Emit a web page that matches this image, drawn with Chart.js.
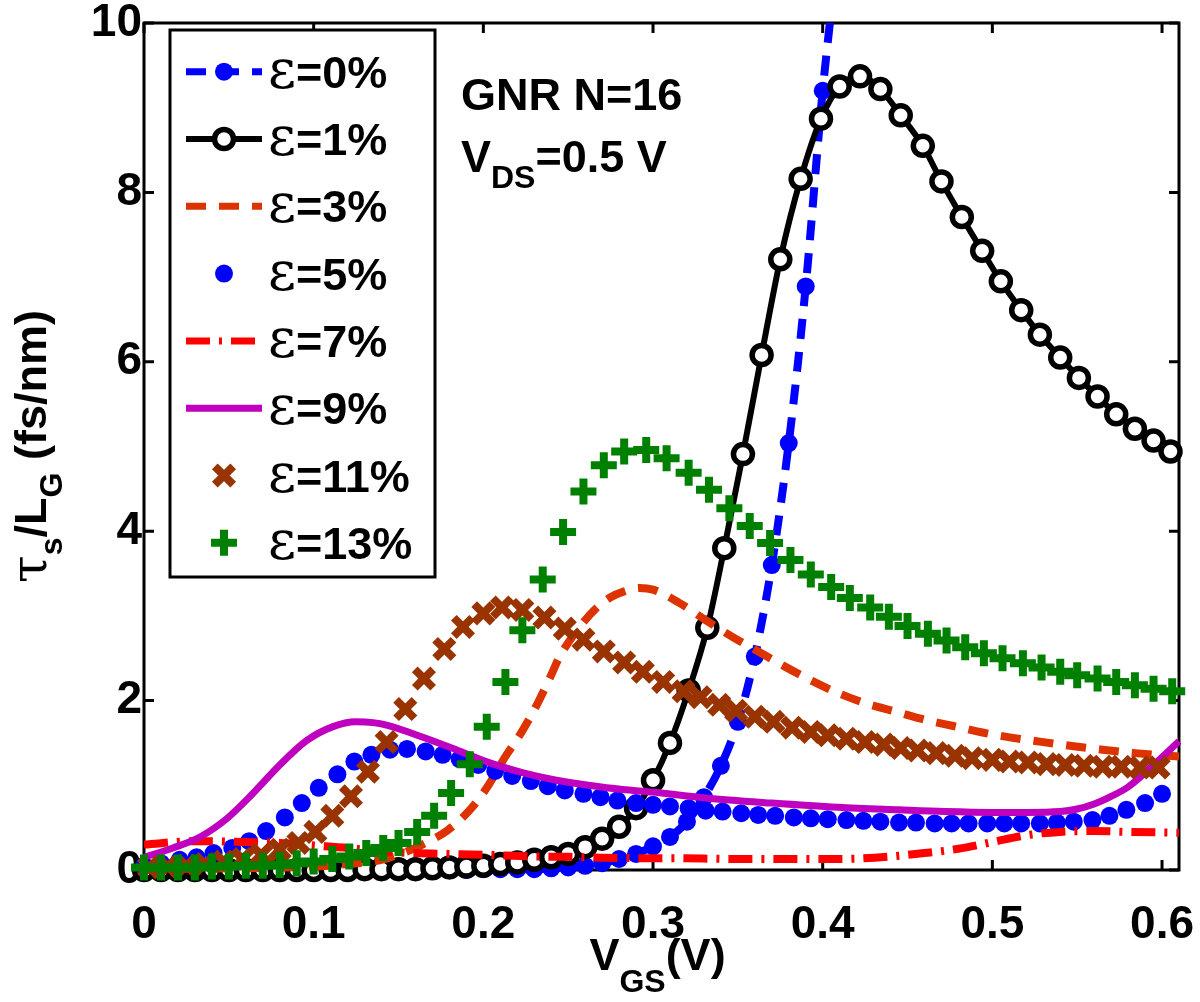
<!DOCTYPE html>
<html>
<head>
<meta charset="utf-8">
<script src="https://cdn.jsdelivr.net/npm/chart.js@4.4.0/dist/chart.umd.min.js"></script>
<style>
  html, body { margin: 0; padding: 0; background: #ffffff; }
  canvas { display: block; }
</style>
</head>
<body>
<canvas id="tauChart" width="1200" height="1002"></canvas>
<script>
// Axis ticks
const xTicks = [0, 0.1, 0.2, 0.3, 0.4, 0.5, 0.6];
const xTickLabels = ['0', '0.1', '0.2', '0.3', '0.4', '0.5', '0.6'];
const yTicks = [0, 2, 4, 6, 8, 10];
const yTickLabels = ['0', '2', '4', '6', '8', '10'];

// Series labels (legend order)
const seriesLabels = ['ε=0%', 'ε=1%', 'ε=3%', 'ε=5%', 'ε=7%', 'ε=9%', 'ε=11%', 'ε=13%'];

// ε = 0 %
const eps0X = [0.00, 0.01, 0.02, 0.03, 0.04, 0.05, 0.06, 0.07, 0.08, 0.09, 0.10, 0.11, 0.12, 0.13, 0.14,
  0.15, 0.16, 0.17, 0.18, 0.19, 0.20, 0.21, 0.22, 0.23, 0.24, 0.25, 0.26, 0.27, 0.28, 0.29,
  0.30, 0.31, 0.32, 0.33, 0.34, 0.35, 0.36, 0.37, 0.38, 0.39, 0.40, 0.41];
const eps0Y = [0.00, 0.00, 0.00, 0.00, 0.00, 0.00, 0.00, 0.00, 0.00, 0.00, 0.00, 0.00, 0.00, 0.00, 0.00,
  0.00, 0.00, 0.00, 0.00, 0.00, 0.01, 0.01, 0.01, 0.01, 0.02, 0.03, 0.05, 0.08, 0.13, 0.19,
  0.28, 0.39, 0.57, 0.86, 1.23, 1.75, 2.52, 3.60, 5.04, 6.89, 9.20, 11.0];

// ε = 1 %
const eps1X = [0.00, 0.01, 0.02, 0.03, 0.04, 0.05, 0.06, 0.07, 0.08, 0.09, 0.10, 0.11, 0.12, 0.13, 0.14,
  0.15, 0.16, 0.17, 0.18, 0.19, 0.20, 0.21, 0.22, 0.23, 0.24, 0.25, 0.26, 0.27, 0.28, 0.29,
  0.30, 0.31, 0.321, 0.332, 0.342, 0.353, 0.364, 0.375, 0.387, 0.399, 0.410, 0.422, 0.434,
  0.446, 0.459, 0.470, 0.482, 0.494, 0.505, 0.517, 0.528, 0.540, 0.551, 0.562, 0.573, 0.584,
  0.595, 0.605];
const eps1Y = [0.00, 0.00, 0.00, 0.00, 0.00, 0.00, 0.00, 0.00, 0.00, 0.00, 0.00, 0.00, 0.00, 0.01, 0.01,
  0.01, 0.01, 0.02, 0.03, 0.04, 0.05, 0.07, 0.09, 0.12, 0.15, 0.19, 0.27, 0.37, 0.51, 0.73,
  1.06, 1.50, 2.12, 2.86, 3.80, 4.91, 6.08, 7.21, 8.16, 8.87, 9.25, 9.37, 9.22,
  8.91, 8.55, 8.13, 7.71, 7.31, 6.95, 6.61, 6.32, 6.05, 5.81, 5.59, 5.38, 5.21,
  5.07, 4.94];

// ε = 3 %
const eps3X = [0.00, 0.05, 0.10, 0.12, 0.14, 0.15, 0.164, 0.179, 0.193, 0.203, 0.213, 0.222, 0.231,
  0.239, 0.245, 0.256, 0.266, 0.275, 0.283, 0.292, 0.300, 0.315, 0.331, 0.347, 0.362, 0.377,
  0.394, 0.409, 0.425, 0.443, 0.459, 0.477, 0.495, 0.512, 0.530, 0.548, 0.565, 0.584, 0.61];
const eps3Y = [0.01, 0.02, 0.04, 0.07, 0.12, 0.18, 0.30, 0.47, 0.73, 1.00, 1.34, 1.61, 1.93,
  2.26, 2.52, 2.85, 3.08, 3.22, 3.29, 3.33, 3.31, 3.16, 2.95, 2.75, 2.58, 2.41,
  2.23, 2.09, 1.97, 1.87, 1.78, 1.70, 1.62, 1.56, 1.51, 1.46, 1.42, 1.38, 1.34];

// ε = 5 %
const eps5X = [0.000, 0.010, 0.021, 0.031, 0.041, 0.052, 0.062, 0.072, 0.083, 0.093, 0.103, 0.114,
  0.124, 0.134, 0.145, 0.155, 0.166, 0.176, 0.186, 0.197, 0.207, 0.217, 0.228, 0.238, 0.248,
  0.259, 0.269, 0.279, 0.290, 0.300, 0.310, 0.321, 0.331, 0.341, 0.352, 0.362, 0.372, 0.383,
  0.393, 0.403, 0.414, 0.424, 0.434, 0.445, 0.455, 0.466, 0.476, 0.486, 0.497, 0.507, 0.517,
  0.528, 0.538, 0.548, 0.559, 0.569, 0.579, 0.590, 0.600];
const eps5Y = [0.05, 0.08, 0.12, 0.15, 0.20, 0.26, 0.34, 0.46, 0.62, 0.79, 0.97, 1.13,
  1.28, 1.36, 1.42, 1.43, 1.40, 1.36, 1.31, 1.24, 1.17, 1.11, 1.05, 0.99, 0.94,
  0.90, 0.86, 0.82, 0.79, 0.77, 0.75, 0.73, 0.70, 0.69, 0.67, 0.65, 0.64, 0.62,
  0.61, 0.60, 0.59, 0.58, 0.57, 0.56, 0.56, 0.55, 0.55, 0.55, 0.55, 0.55, 0.55,
  0.55, 0.56, 0.57, 0.59, 0.64, 0.71, 0.79, 0.90];

// ε = 7 %
const eps7X = [0.00, 0.03, 0.06, 0.08, 0.10, 0.12, 0.14, 0.16, 0.18, 0.20, 0.23, 0.25, 0.27, 0.29,
  0.31, 0.35, 0.40, 0.42, 0.44, 0.46, 0.48, 0.50, 0.52, 0.54, 0.56, 0.58, 0.61];
const eps7Y = [0.30, 0.34, 0.33, 0.32, 0.29, 0.26, 0.22, 0.20, 0.19, 0.18, 0.16, 0.155, 0.145, 0.14,
  0.14, 0.13, 0.13, 0.135, 0.16, 0.20, 0.25, 0.33, 0.41, 0.45, 0.46, 0.45, 0.44];

// ε = 9 %
const eps9X = [0.000, 0.017, 0.033, 0.049, 0.064, 0.080, 0.096, 0.111, 0.125, 0.135, 0.143, 0.164,
  0.184, 0.203, 0.223, 0.243, 0.262, 0.282, 0.300, 0.331, 0.370, 0.409, 0.445, 0.472, 0.500,
  0.520, 0.540, 0.550, 0.560, 0.570, 0.580, 0.595, 0.610];
const eps9Y = [0.15, 0.26, 0.39, 0.61, 0.90, 1.24, 1.53, 1.69, 1.75, 1.74, 1.71, 1.57,
  1.42, 1.27, 1.15, 1.06, 1.00, 0.95, 0.92, 0.85, 0.79, 0.74, 0.71, 0.69, 0.68,
  0.68, 0.69, 0.72, 0.78, 0.87, 0.98, 1.24, 1.52];

// ε = 11 %
const eps11X = [0.003, 0.014, 0.025, 0.036, 0.047, 0.058, 0.069, 0.080, 0.091, 0.101, 0.111, 0.122,
  0.132, 0.143, 0.154, 0.165, 0.177, 0.188, 0.200, 0.211, 0.223, 0.236, 0.248, 0.259, 0.271,
  0.283, 0.294, 0.306, 0.318, 0.328, 0.339, 0.349, 0.360, 0.371, 0.382, 0.393, 0.403, 0.414,
  0.425, 0.436, 0.446, 0.456, 0.467, 0.478, 0.488, 0.500, 0.510, 0.521, 0.532, 0.543, 0.554,
  0.565, 0.576, 0.587, 0.598];
const eps11Y = [0.03, 0.04, 0.05, 0.07, 0.10, 0.13, 0.18, 0.24, 0.32, 0.45, 0.64, 0.87,
  1.16, 1.51, 1.90, 2.26, 2.61, 2.87, 3.03, 3.10, 3.07, 2.98, 2.85, 2.72, 2.58,
  2.45, 2.34, 2.22, 2.11, 2.04, 1.95, 1.88, 1.81, 1.75, 1.68, 1.63, 1.59, 1.55,
  1.51, 1.48, 1.44, 1.41, 1.38, 1.35, 1.32, 1.30, 1.28, 1.27, 1.25, 1.24, 1.23,
  1.22, 1.22, 1.21, 1.21];

// ε = 13 %
const eps13X = [0.00, 0.01, 0.02, 0.03, 0.04, 0.05, 0.06, 0.07, 0.08, 0.09, 0.100, 0.111, 0.121,
  0.131, 0.141, 0.150, 0.161, 0.171, 0.181, 0.192, 0.202, 0.213, 0.223, 0.235, 0.247, 0.259,
  0.271, 0.283, 0.296, 0.308, 0.321, 0.333, 0.345, 0.357, 0.369, 0.381, 0.393, 0.405, 0.416,
  0.428, 0.439, 0.450, 0.462, 0.473, 0.484, 0.495, 0.506, 0.518, 0.529, 0.540, 0.550, 0.562,
  0.573, 0.584, 0.595, 0.606];
const eps13Y = [0.03, 0.03, 0.03, 0.03, 0.04, 0.04, 0.05, 0.05, 0.06, 0.08, 0.10, 0.13, 0.16,
  0.20, 0.26, 0.32, 0.45, 0.64, 0.91, 1.25, 1.69, 2.22, 2.83, 3.43, 3.99, 4.47,
  4.78, 4.94, 4.96, 4.86, 4.69, 4.49, 4.27, 4.06, 3.86, 3.66, 3.49, 3.34, 3.21,
  3.10, 2.99, 2.88, 2.79, 2.71, 2.63, 2.56, 2.50, 2.44, 2.39, 2.34, 2.30, 2.26,
  2.22, 2.18, 2.14, 2.11];

const FONT = '"Liberation Sans", Arial, Helvetica, sans-serif';
const GREEK = '"DejaVu Serif", "Liberation Serif", serif';

function pts(xs, ys) {
    return xs.map((x, i) => ({ x: x, y: ys[i] }));
}

const noClip = { left: false, top: false, right: false, bottom: false };

const datasets = [
    {
        label: seriesLabels[0], data: pts(eps0X, eps0Y), showLine: true,
        borderColor: '#0000ff', borderWidth: 8, borderDash: [20, 13],
        pointStyle: 'circle', pointRadius: 9, pointBackgroundColor: '#0000ff', pointBorderWidth: 0,
        clip: { left: false, top: 0, right: false, bottom: false }
    },
    {
        label: seriesLabels[1], data: pts(eps1X, eps1Y), showLine: true,
        borderColor: '#000000', borderWidth: 6,
        pointStyle: 'circle', pointRadius: 9.5, pointBackgroundColor: '#ffffff',
        pointBorderColor: '#000000', pointBorderWidth: 5.5, clip: noClip
    },
    {
        label: seriesLabels[2], data: pts(eps3X, eps3Y), showLine: true,
        borderColor: '#dd3300', borderWidth: 8, borderDash: [20, 13],
        pointRadius: 0, clip: noClip
    },
    {
        label: seriesLabels[3], data: pts(eps5X, eps5Y), showLine: false,
        pointStyle: 'circle', pointRadius: 9, pointBackgroundColor: '#0000ff',
        pointBorderWidth: 0, clip: noClip
    },
    {
        label: seriesLabels[4], data: pts(eps7X, eps7Y), showLine: true,
        borderColor: '#ff0000', borderWidth: 8, borderDash: [24, 9, 3, 9],
        pointRadius: 0, clip: noClip
    },
    {
        label: seriesLabels[5], data: pts(eps9X, eps9Y), showLine: true,
        borderColor: '#bf00bf', borderWidth: 7,
        pointRadius: 0, clip: noClip
    },
    {
        label: seriesLabels[6], data: pts(eps11X, eps11Y), showLine: false,
        pointStyle: 'crossRot', pointRadius: 13, pointBorderColor: '#993300',
        pointBorderWidth: 8, clip: noClip
    },
    {
        label: seriesLabels[7], data: pts(eps13X, eps13Y), showLine: false,
        pointStyle: 'cross', pointRadius: 13, pointBorderColor: '#008000',
        pointBorderWidth: 8, clip: noClip
    }
];

// later series drawn on top, like the original plot
datasets.forEach((ds, i) => {
    ds.order = datasets.length - i;
    ds.cubicInterpolationMode = 'monotone';
    ds.fill = false;
});

// draw "main + subscript" text pieces
function drawPieces(ctx, pieces, x, y) {
    let cx = x;
    pieces.forEach(p => {
        ctx.font = p.font;
        ctx.fillText(p.t, cx, y + (p.dy || 0));
        cx += ctx.measureText(p.t).width;
    });
    return cx;
}

function piecesWidth(ctx, pieces) {
    let w = 0;
    pieces.forEach(p => {
        ctx.font = p.font;
        w += ctx.measureText(p.t).width;
    });
    return w;
}

function drawMarker(ctx, ds, x, y) {
    const r = ds.pointRadius;
    ctx.save();
    ctx.setLineDash([]);
    if (ds.pointStyle === 'circle') {
        ctx.beginPath();
        ctx.arc(x, y, r, 0, Math.PI * 2);
        ctx.fillStyle = ds.pointBackgroundColor;
        ctx.fill();
        if (ds.pointBorderWidth) {
            ctx.lineWidth = ds.pointBorderWidth;
            ctx.strokeStyle = ds.pointBorderColor;
            ctx.stroke();
        }
    } else {
        const a = ds.pointStyle === 'crossRot' ? Math.PI / 4 : 0;
        const dx = Math.cos(a) * r, dy = Math.sin(a) * r;
        ctx.beginPath();
        ctx.moveTo(x - dx, y - dy);
        ctx.lineTo(x + dx, y + dy);
        ctx.moveTo(x + dy, y - dx);
        ctx.lineTo(x - dy, y + dx);
        ctx.lineWidth = ds.pointBorderWidth;
        ctx.strokeStyle = ds.pointBorderColor;
        ctx.stroke();
    }
    ctx.restore();
}

const matlabAxes = {
    id: 'matlabAxes',
    beforeDatasetsDraw(chart) {
        const { ctx, chartArea: a, scales } = chart;
        ctx.save();
        ctx.strokeStyle = '#000';
        ctx.lineWidth = 3;
        ctx.strokeRect(a.left, a.top, a.right - a.left, a.bottom - a.top);
        ctx.beginPath();
        xTicks.forEach(v => {
            const px = scales.x.getPixelForValue(v);
            ctx.moveTo(px, a.bottom); ctx.lineTo(px, a.bottom - 10);
            ctx.moveTo(px, a.top); ctx.lineTo(px, a.top + 10);
        });
        yTicks.forEach(v => {
            const py = scales.y.getPixelForValue(v);
            ctx.moveTo(a.left, py); ctx.lineTo(a.left + 10, py);
            ctx.moveTo(a.right, py); ctx.lineTo(a.right - 10, py);
        });
        ctx.stroke();
        ctx.restore();
    },
    afterDatasetsDraw(chart) {
        const { ctx, chartArea: a } = chart;
        const big = 'bold 45px ' + FONT;
        const sub = 'bold 32px ' + FONT;
        ctx.save();
        ctx.fillStyle = '#000';
        ctx.textBaseline = 'alphabetic';

        // legend box
        const lx = 170, ly = 30, lw = 265, lh = 547;
        ctx.fillStyle = '#fff';
        ctx.fillRect(lx, ly, lw, lh);
        ctx.strokeStyle = '#000';
        ctx.lineWidth = 3;
        ctx.strokeRect(lx, ly, lw, lh);

        chart.data.datasets.forEach((ds, i) => {
            const ry = 71.7 + i * 67.3;
            if (ds.showLine) {
                ctx.save();
                ctx.strokeStyle = ds.borderColor;
                ctx.lineWidth = Math.min(ds.borderWidth, 7);
                ctx.setLineDash(ds.borderDash || []);
                ctx.beginPath();
                ctx.moveTo(186, ry);
                ctx.lineTo(262, ry);
                ctx.stroke();
                ctx.restore();
            }
            if (ds.pointRadius > 0) drawMarker(ctx, ds, 224, ry);
            ctx.fillStyle = '#000';
            ctx.textBaseline = 'alphabetic';
            const lab = ds.label;
            drawPieces(ctx, [
                { t: lab.charAt(0), font: '54px ' + GREEK },
                { t: lab.slice(1), font: big }
            ], 268, ry + 16);
        });

        // annotation
        ctx.textBaseline = 'alphabetic';
        ctx.fillStyle = '#000';
        drawPieces(ctx, [{ t: 'GNR N=16', font: big }], 461, 110);
        drawPieces(ctx, [
            { t: 'V', font: big },
            { t: 'DS', font: sub, dy: 16 },
            { t: '=0.5 V', font: big }
        ], 461, 172);

        // x axis title
        const xt = [
            { t: 'V', font: big },
            { t: 'GS', font: sub, dy: 22 },
            { t: '(V)', font: big }
        ];
        const xw = piecesWidth(ctx, xt);
        drawPieces(ctx, xt, (a.left + a.right) / 2 - xw / 2 - 4, 970);

        // y axis title (rotated)
        const yt = [
            { t: 'τ', font: '50px ' + GREEK },
            { t: 's', font: sub, dy: 16 },
            { t: '/L', font: big },
            { t: 'G', font: sub, dy: 16 },
            { t: ' (fs/nm)', font: big }
        ];
        const yw = piecesWidth(ctx, yt);
        ctx.save();
        ctx.translate(46, (a.top + a.bottom) / 2);
        ctx.rotate(-Math.PI / 2);
        drawPieces(ctx, yt, -yw / 2, 0);
        ctx.restore();

        ctx.restore();
    }
};

const tickFont = { family: FONT, size: 46, weight: 'bold', lineHeight: 1 };

const chart = new Chart(document.getElementById('tauChart').getContext('2d'), {
    type: 'line',
    data: { datasets: datasets },
    options: {
        responsive: false,
        animation: false,
        devicePixelRatio: 1,
        layout: { padding: { top: 23, right: 18, bottom: 0, left: 0 } },
        plugins: {
            legend: { display: false },
            tooltip: { enabled: false }
        },
        scales: {
            x: {
                type: 'linear',
                min: 0,
                max: 0.61,
                grid: { display: false, drawTicks: false },
                border: { display: false },
                ticks: {
                    font: tickFont,
                    color: '#000',
                    padding: 32,
                    maxRotation: 0,
                    autoSkip: false,
                    callback: (v, i) => xTickLabels[i]
                },
                afterBuildTicks: s => { s.ticks = xTicks.map(v => ({ value: v })); },
                afterFit: s => { s.height = 132; s.paddingLeft = 0; s.paddingRight = 0; }
            },
            y: {
                type: 'linear',
                min: 0,
                max: 10,
                grid: { display: false, drawTicks: false },
                border: { display: false },
                ticks: {
                    font: tickFont,
                    color: '#000',
                    padding: 2,
                    autoSkip: false,
                    callback: (v, i) => yTickLabels[i]
                },
                afterBuildTicks: s => { s.ticks = yTicks.map(v => ({ value: v })); },
                afterFit: s => { s.width = 144; s.paddingTop = 0; s.paddingBottom = 0; }
            }
        }
    },
    plugins: [matlabAxes]
});
</script>
</body>
</html>
